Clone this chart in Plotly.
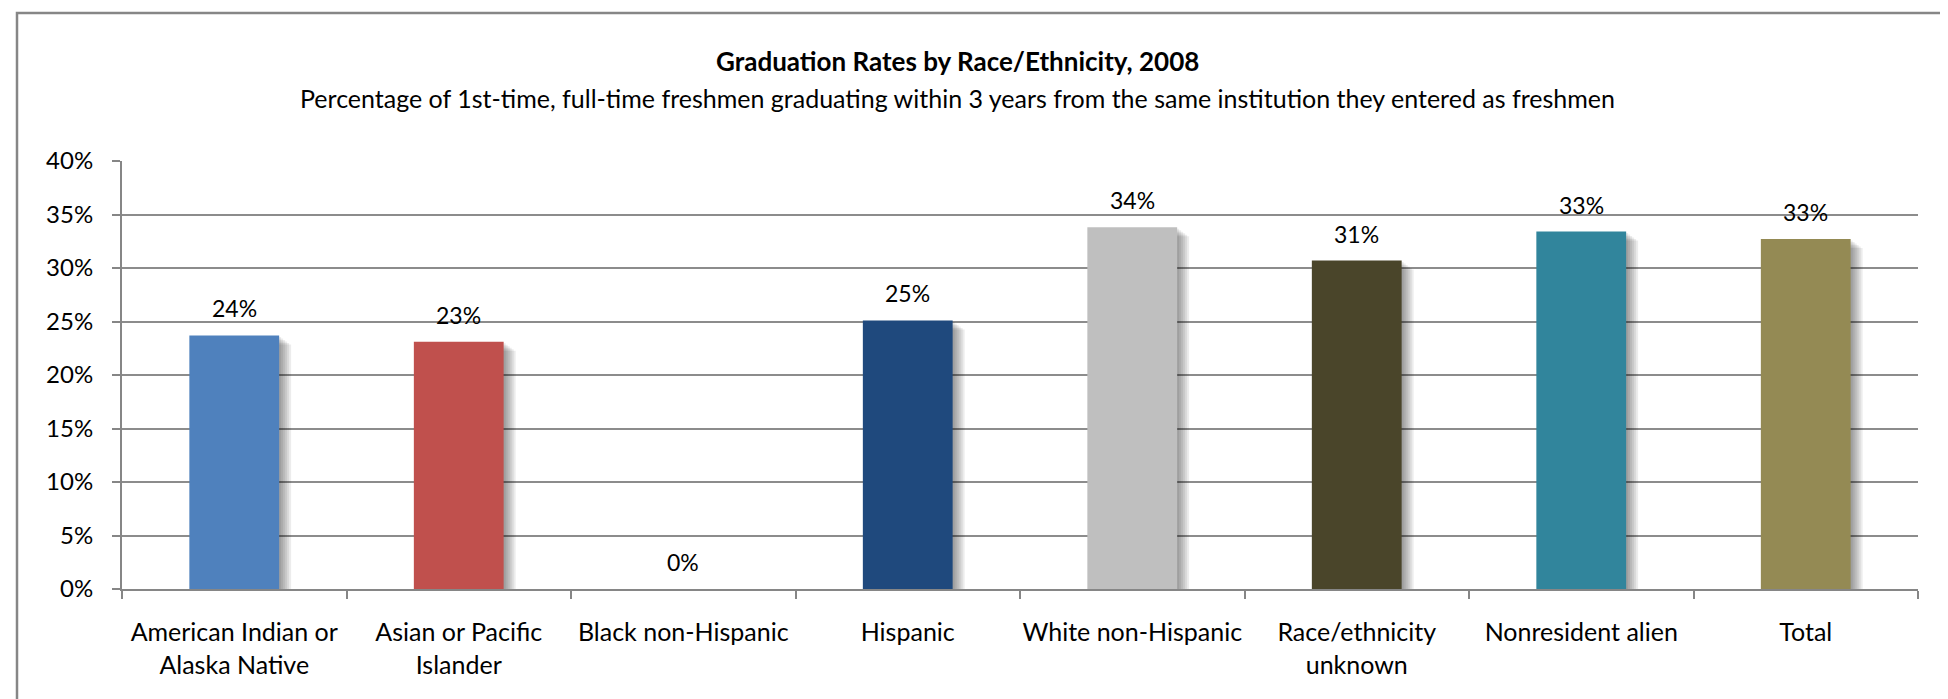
import plotly.graph_objects as go

categories = [
    "American Indian or<br>Alaska Native",
    "Asian or Pacific<br>Islander",
    "Black non-Hispanic",
    "Hispanic",
    "White non-Hispanic",
    "Race/ethnicity<br>unknown",
    "Nonresident alien",
    "Total",
]
rates = [0.237, 0.231, 0.0, 0.251, 0.338, 0.307, 0.334, 0.327]
bar_colors = ["#4F81BD", "#C0504D", "#9BBB59", "#1F497D", "#BFBFBF", "#4A452A", "#31859C", "#948A54"]
y_ticks = [0, 0.05, 0.10, 0.15, 0.20, 0.25, 0.30, 0.35, 0.40]

title_text = "Graduation Rates by Race/Ethnicity, 2008"
subtitle_text = ("Percentage of 1st-time, full-time freshmen graduating within 3 years "
                 "from the same institution they entered as freshmen")

FONT = "Lato, Calibri, Carlito, sans-serif"
W, H = 1948, 699
L, R, T, B = 114, 38, 153, 118
pw, ph = W - L - R, H - T - B
cat_px = pw / len(categories)
y_per_px = 0.40 / ph

fig = go.Figure()

# soft drop shadow: stacked translucent layers offset to the right / down
n_sh = 6
for k in range(n_sh, 0, -1):
    fig.add_trace(go.Bar(
        x=categories, y=[max(v - 1.5 * k * y_per_px, 0) for v in rates],
        width=0.40, offset=-0.20 + (2.0 * k) / cat_px,
        marker=dict(color="rgba(0,0,0,0.075)", line=dict(width=0)),
        hoverinfo="skip", showlegend=False,
    ))

fig.add_trace(go.Bar(
    x=categories, y=rates,
    width=0.40, offset=-0.20,
    marker=dict(color=bar_colors, line=dict(width=0)),
    showlegend=False,
))

annotations = [
    dict(text=f"<b>{title_text}</b>", xref="paper", yref="paper",
         x=(949 - L) / pw, y=(H - B - 53) / ph, xanchor="center", yanchor="middle",
         showarrow=False, font=dict(family=FONT, size=26, color="#000000")),
    dict(text=subtitle_text, xref="paper", yref="paper",
         x=(949 - L) / pw, y=(H - B - 90) / ph, xanchor="center", yanchor="middle",
         showarrow=False, font=dict(family=FONT, size=25, color="#000000")),
]
for c, v in zip(categories, rates):
    annotations.append(dict(
        x=c, y=v, xref="x", yref="y", text=f"{round(v * 100):.0f}%",
        showarrow=False, xanchor="center", yanchor="middle", yshift=27,
        font=dict(family=FONT, size=23, color="#000000"),
    ))

fig.update_layout(
    width=W, height=H,
    margin=dict(l=L, r=R, t=T, b=B, pad=0, autoexpand=False),
    paper_bgcolor="white", plot_bgcolor="white",
    barmode="overlay",
    font=dict(family=FONT, size=24, color="#000000"),
    showlegend=False,
    xaxis=dict(
        type="category", automargin=False, tickangle=0,
        showline=True, linecolor="#868686", linewidth=2,
        ticks="outside", tickson="boundaries", ticklen=8, tickcolor="#868686", tickwidth=1.5,
        tickfont=dict(family=FONT, size=25, color="#000000"),
        ticklabelstandoff=20,
        showgrid=False,
    ),
    yaxis=dict(
        range=[0, 0.40], automargin=False,
        tickvals=y_ticks, tickformat=".0%",
        showline=True, linecolor="#868686", linewidth=2,
        ticks="outside", ticklen=8, tickcolor="#868686", tickwidth=1.5,
        showgrid=True, gridcolor="#8c8c8c", gridwidth=1.5,
        zeroline=False,
        tickfont=dict(family=FONT, size=24, color="#000000"),
        ticklabelstandoff=14,
    ),
    shapes=[dict(
        type="rect", xref="paper", yref="paper",
        x0=(9 - L) / pw, x1=(1940 - L) / pw,
        y0=(H - B - 720) / ph, y1=(H - B - 5) / ph,
        line=dict(color="#868686", width=2.5), fillcolor="rgba(0,0,0,0)", layer="below",
    )],
    annotations=annotations,
)

fig.write_html("out.html")
